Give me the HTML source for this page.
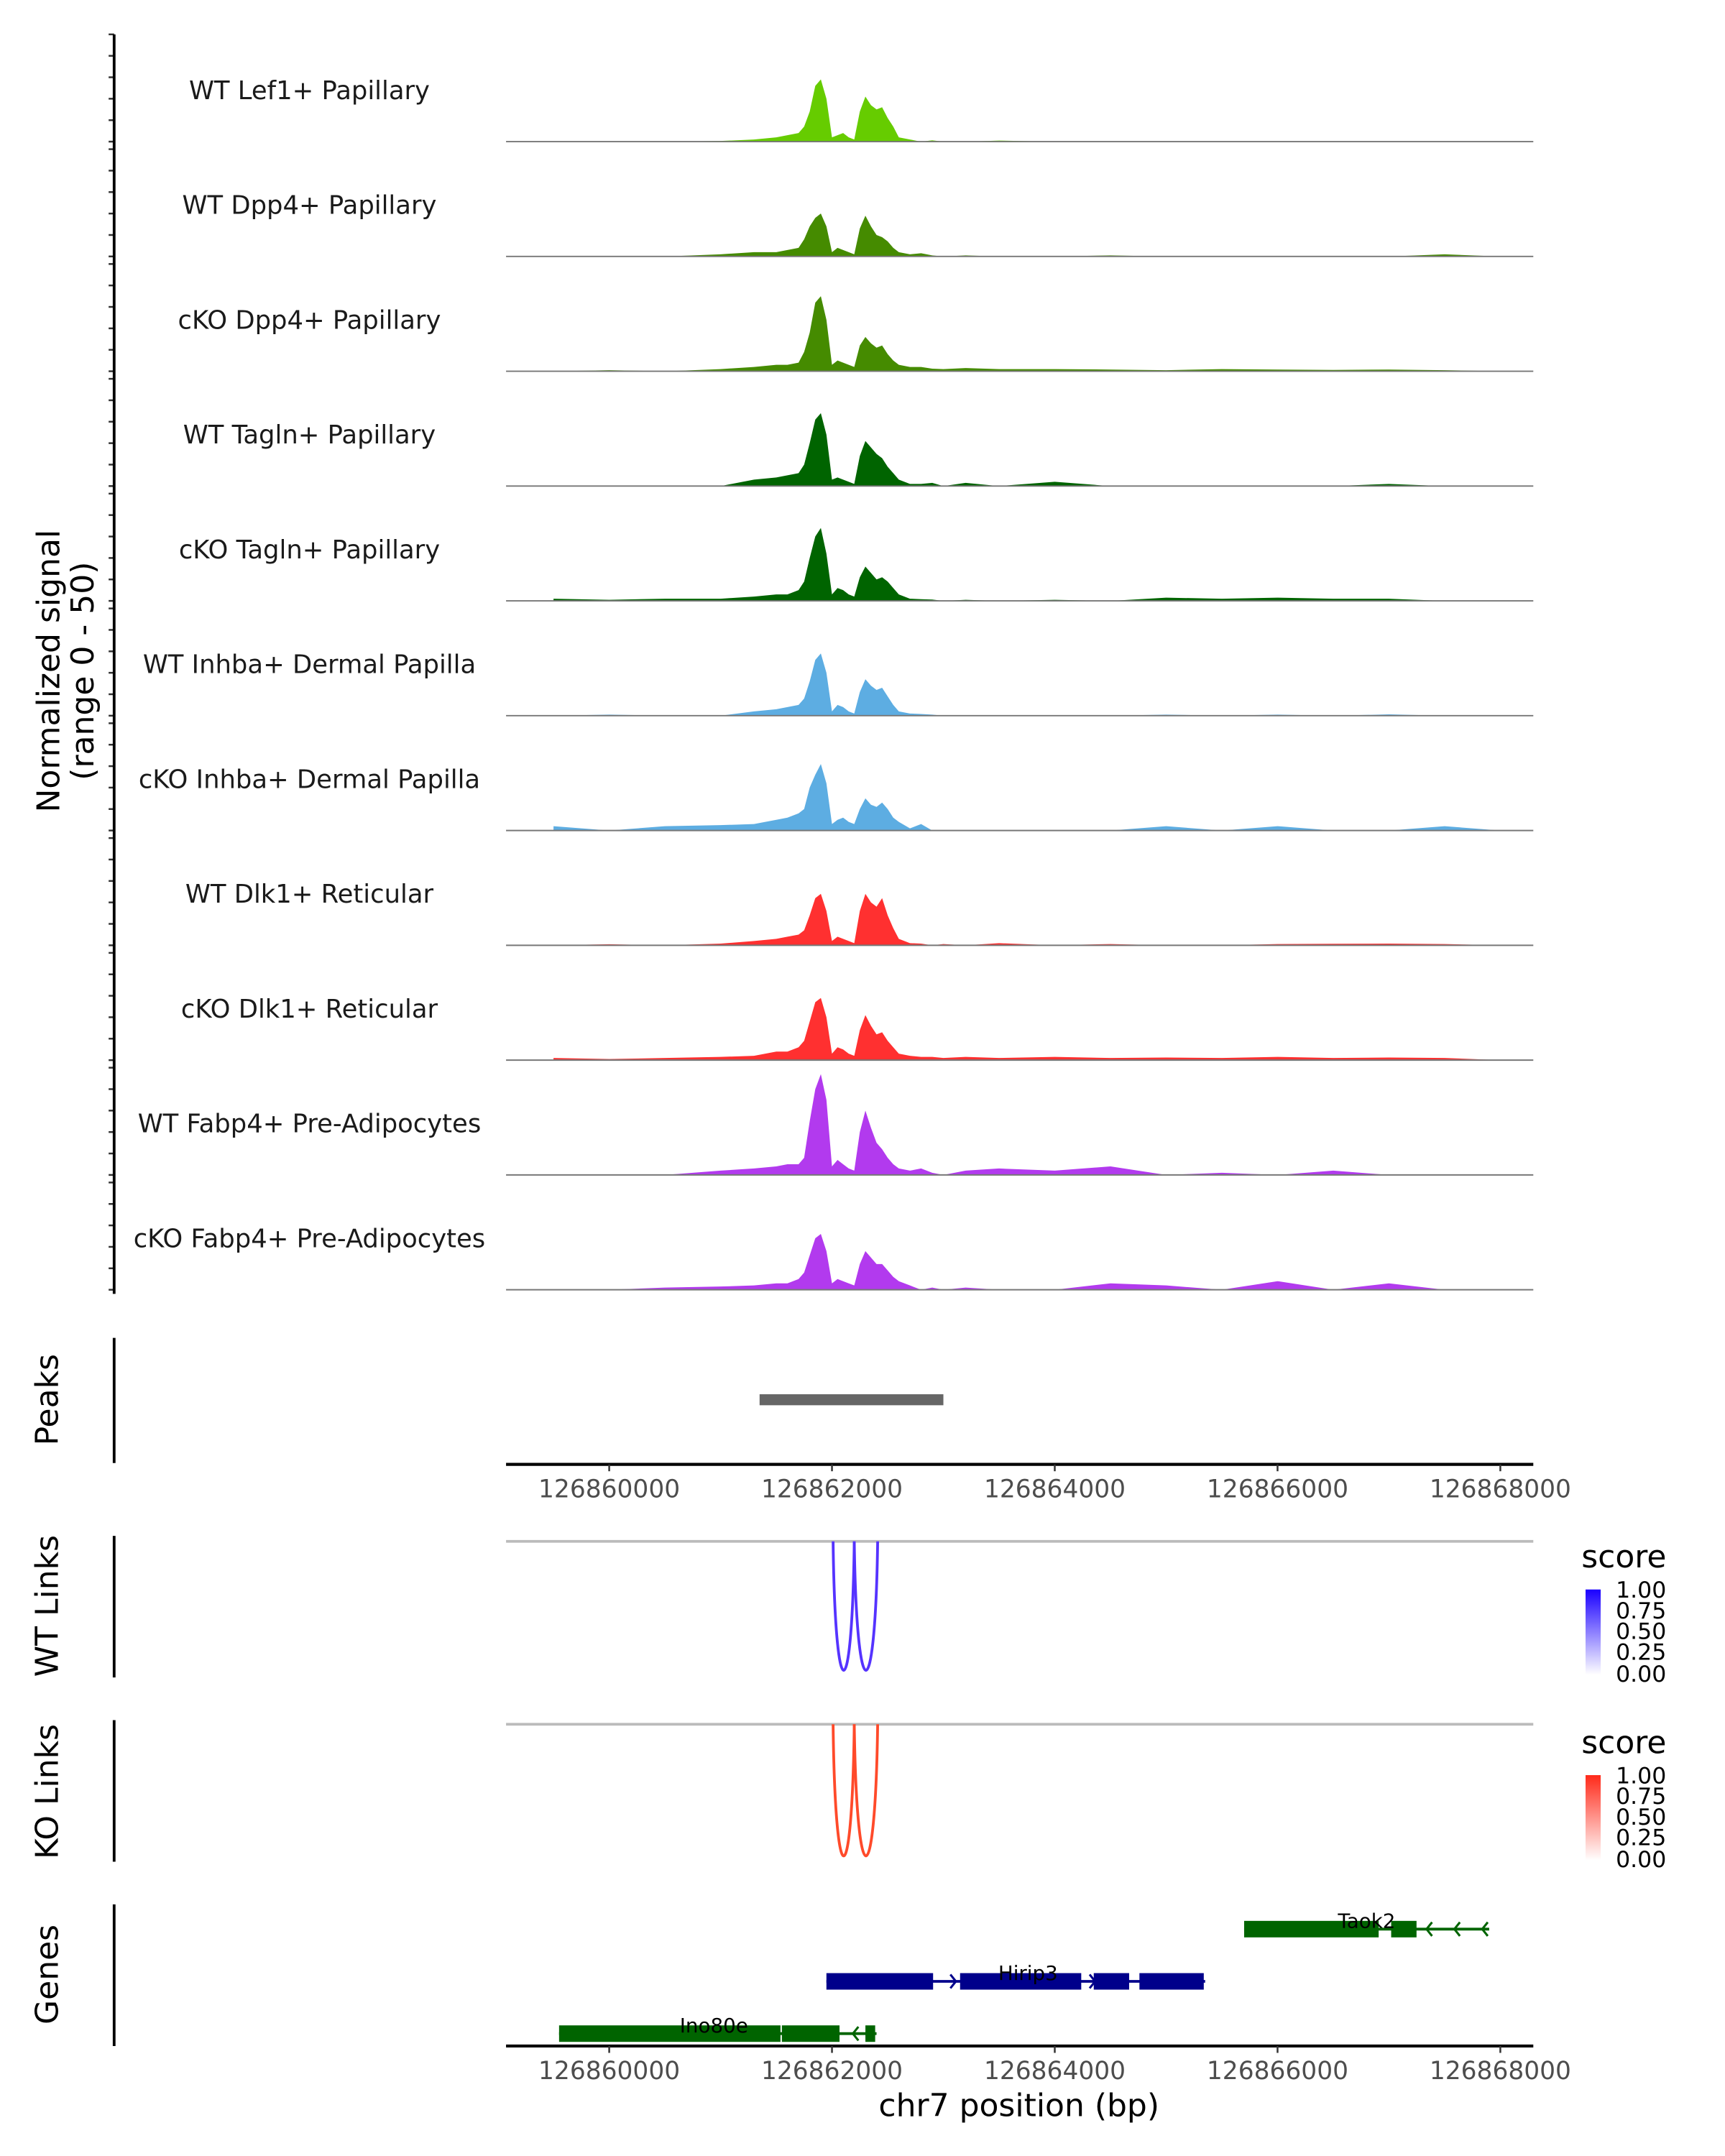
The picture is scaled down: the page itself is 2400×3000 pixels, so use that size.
<!DOCTYPE html>
<html><head><meta charset="utf-8">
<style>
html,body{margin:0;padding:0;background:#fff;}
svg{display:block;font-family:"DejaVu Sans","Liberation Sans",sans-serif;}
</style></head>
<body>
<svg id="chart" width="2400" height="3000" viewBox="0 0 1254.4 1568" xmlns="http://www.w3.org/2000/svg">
<g id="tracks"></g>
<g id="axes"></g>
<text transform="translate(43,488) rotate(-90)" text-anchor="middle" font-size="23" fill="#000">Normalized signal</text>
<text transform="translate(68,488) rotate(-90)" text-anchor="middle" font-size="23" fill="#000">(range 0 - 50)</text>
<text transform="translate(42,1018) rotate(-90)" text-anchor="middle" font-size="23">Peaks</text>
<text transform="translate(42,1168) rotate(-90)" text-anchor="middle" font-size="23">WT Links</text>
<text transform="translate(42,1303) rotate(-90)" text-anchor="middle" font-size="23">KO Links</text>
<text transform="translate(42,1436) rotate(-90)" text-anchor="middle" font-size="23">Genes</text>
<text x="741" y="1539" text-anchor="middle" font-size="23">chr7 position (bp)</text>
<defs>
<linearGradient id="gb" x1="0" y1="1" x2="0" y2="0"><stop offset="0" stop-color="#fff"/><stop offset="1" stop-color="#1a00ff"/></linearGradient>
<linearGradient id="gr" x1="0" y1="1" x2="0" y2="0"><stop offset="0" stop-color="#fff"/><stop offset="1" stop-color="#ff2a1a"/></linearGradient>
</defs>
<g>
<text x="1150" y="1140" font-size="23">score</text>
<rect x="1153" y="1156" width="11" height="62" fill="url(#gb)"/>
<text x="1175" y="1162" font-size="16.5">1.00</text><text x="1175" y="1177" font-size="16.5">0.75</text><text x="1175" y="1192" font-size="16.5">0.50</text><text x="1175" y="1207" font-size="16.5">0.25</text><text x="1175" y="1223" font-size="16.5">0.00</text>
</g>
<g>
<text x="1150" y="1275" font-size="23">score</text>
<rect x="1153" y="1291" width="11" height="62" fill="url(#gr)"/>
<text x="1175" y="1297" font-size="16.5">1.00</text><text x="1175" y="1312" font-size="16.5">0.75</text><text x="1175" y="1327" font-size="16.5">0.50</text><text x="1175" y="1342" font-size="16.5">0.25</text><text x="1175" y="1358" font-size="16.5">0.00</text>
</g>
</svg>
<script>
const positions=[126859500,126860000,126860500,126861000,126861300,126861500,126861600,126861700,126861750,126861800,126861850,126861900,126861950,126862000,126862050,126862100,126862150,126862200,126862250,126862300,126862350,126862400,126862450,126862500,126862550,126862600,126862700,126862800,126862900,126863000,126863200,126863500,126864000,126864500,126865000,126865500,126866000,126866500,126867000,126867500,126868000];
const trackNames=["WT Lef1+ Papillary","WT Dpp4+ Papillary","cKO Dpp4+ Papillary","WT Tagln+ Papillary","cKO Tagln+ Papillary","WT Inhba+ Dermal Papilla","cKO Inhba+ Dermal Papilla","WT Dlk1+ Reticular","cKO Dlk1+ Reticular","WT Fabp4+ Pre-Adipocytes","cKO Fabp4+ Pre-Adipocytes"];
const trackColors=["#66cc00","#458b00","#458b00","#006400","#006400","#5dade2","#5dade2","#ff3030","#ff3030","#b23aee","#b23aee"];
const sigLef1=[0,0,0,0.3,1,2,3,4,7,14,26,29,20,2,3,4,2,1,14,21,17,15,16,11,7,2,1,0,0.6,0,0,0.5,0,0,0,0,0,0,0,0,0];
const sigWTDpp4=[0,0,0,1,2,2,3,4,8,14,18,20,14,2,4,3,2,1,13,19,14,10,9,7,4,2,1,1.5,0.5,0,0.5,0,0,0.5,0,0,0,0,0,1,0];
const sigKODpp4=[0,0.5,0,1,2,3,3,4,9,18,32,35,24,3,5,4,3,2,12,16,13,11,12,8,5,3,2,2,1.2,1,1.5,1,1,0.8,0.5,1,0.8,0.6,0.8,0.5,0];
const sigWTTagln=[0,0,0,0,3,4,5,6,10,20,31,34,24,3,4,3,2,1,14,21,18,15,13,9,6,3,1,1,1.5,0,1.5,0,2,0,0,0,0,0,1,0,0];
const sigKOTagln=[1,0.5,1,1,2,3,3,5,9,20,30,34,22,3,6,5,3,2,11,16,13,10,11,9,6,3,1,0.8,0.6,0,0.5,0,0.5,0,1.5,1,1.5,1,1,0,0];
const sigWTInhba=[0,0.5,0,0,2,3,4,5,8,16,26,29,20,2,5,4,2,1,11,17,14,12,13,9,5,2,1,0.8,0.5,0,0,0,0,0,0.5,0,0.5,0,0.6,0,0];
const sigKOInhba=[2,0,2,2.5,3,5,6,8,10,20,26,31,22,3,5,6,4,3,10,15,12,11,13,10,6,4,1,3,0,0,0,0,0,0,2,0,2,0,0,2,0];
const sigWTDlk1=[0,0.5,0,0.8,2,3,4,5,7,14,22,24,16,2,4,3,2,1,16,24,20,18,22,14,8,3,1,0.8,0,0.6,0,1,0,0.6,0,0,0.6,0.7,0.8,0.6,0];
const sigKODlk1=[1,0.5,1,1.5,2,4,4,6,9,18,27,29,20,3,6,5,3,2,14,21,16,12,13,9,6,3,2,1.5,1.5,1,1.5,1,1.5,1,1.2,1,1.5,1,1.2,1,0];
const sigWTFabp4=[0,0,0,2,3,4,5,5,8,25,40,47,35,4,7,5,3,2,20,30,22,15,12,8,5,3,2,3,1,0,2,3,2,4,0,1,0,2,0,0,0];
const sigKOFabp4=[0,0,1,1.5,2,3,3,5,8,16,24,26,18,3,5,4,3,2,12,18,15,12,12,9,6,4,2,0,1,0,1,0,0,3,2,0,4,0,3,0,0];
const signals=[sigLef1,sigWTDpp4,sigKODpp4,sigWTTagln,sigKOTagln,sigWTInhba,sigKOInhba,sigWTDlk1,sigKODlk1,sigWTFabp4,sigKOFabp4];
const xTicks=[126860000,126862000,126864000,126866000,126868000];
const peakStart=126861350, peakEnd=126863000;
const wtLinks=[[126862010,126862200],[126862200,126862410]];
const koLinks=[[126862010,126862200],[126862200,126862410]];
const genes=[
 {name:"Taok2",row:0,strand:-1,color:"#006400",start:126865700,end:126867900,exons:[[126865700,126866920],[126867020,126867260]],label:126866800},
 {name:"Hirip3",row:1,strand:1,color:"#00008b",start:126861950,end:126865350,exons:[[126861950,126862920],[126863150,126864250],[126864350,126864680],[126864760,126865350]],label:126863760},
 {name:"Ino80e",row:2,strand:-1,color:"#006400",start:126859550,end:126862400,exons:[[126859550,126861550],[126861550,126862080],[126862300,126862400]],label:126860940}
];
const NS="http://www.w3.org/2000/svg";
const X0=368,X1=1115,BP0=126859074,BP1=126868296;
function xs(bp){return X0+(bp-BP0)/(BP1-BP0)*(X1-X0);}
const base0=103,trackStep=83.5,unitPx=1.56;
function ys(i,v){return base0+i*trackStep-v*unitPx;}
function mk(tag,attrs,parent){const e=document.createElementNS(NS,tag);for(const k in attrs)e.setAttribute(k,attrs[k]);parent.appendChild(e);return e;}
const tg=document.getElementById('tracks'),ax=document.getElementById('axes');
signals.forEach((s,i)=>{
 const g=mk('g',{},tg);
 
 
 let d='M'+xs(positions[0])+','+ys(i,0);
 positions.forEach((p,j)=>{d+=' L'+xs(p).toFixed(2)+','+ys(i,s[j]).toFixed(2);});
 d+=' L'+xs(positions[positions.length-1])+','+ys(i,0)+' Z';
 const a=mk('path',{d:d,fill:trackColors[i]},g);
 
 
 const b=mk('line',{x1:X0,x2:X1,y1:ys(i,0),y2:ys(i,0),stroke:'#777','stroke-width':1},g);
 
 
 const t=mk('text',{x:225,y:ys(i,0)-31,'text-anchor':'middle','font-size':18.5,fill:'#1a1a1a'},g);
 t.textContent=trackNames[i];
 
 
 [0,10,20,30,40,50].forEach(v=>{
  const tk=mk('line',{x1:79,x2:83,y1:ys(i,v),y2:ys(i,v),stroke:'#333','stroke-width':1.3},ax);
  
  
 });
});
function vline(x,y1,y2,name){const l=mk('line',{x1:x,x2:x,y1:y1,y2:y2,stroke:'#000','stroke-width':2},ax);}
vline(83,25,941,'signal-y-axis');vline(83,973,1064,'peaks-y-axis');vline(83,1117,1220,'wt-links-y-axis');vline(83,1251,1354,'ko-links-y-axis');vline(83,1385,1488,'genes-y-axis');
const pk=mk('rect',{x:xs(peakStart),y:1014,width:xs(peakEnd)-xs(peakStart),height:8,fill:'#666'},ax);


function xaxis(y,name){
 const l=mk('line',{x1:X0,x2:X1,y1:y,y2:y,stroke:'#000','stroke-width':2.2},ax);
 
 
 xTicks.forEach(t=>{
  const tk=mk('line',{x1:xs(t),x2:xs(t),y1:y,y2:y+5,stroke:'#333','stroke-width':1.3},ax);
  
  
  const tx=mk('text',{x:xs(t),y:y+24,'text-anchor':'middle','font-size':18,fill:'#4d4d4d'},ax);
  tx.textContent=t;
  
  
 });
}
xaxis(1065,'peaks-x-axis');xaxis(1488,'genes-x-axis');
function links(arr,y0,depth,color,name){
 const l=mk('line',{x1:X0,x2:X1,y1:y0,y2:y0,stroke:'#bbb','stroke-width':2},ax);
 
 
 arr.forEach(([a,b])=>{
  const xa=xs(a),xb=xs(b);
  const p=mk('path',{d:`M${xa},${y0} C${xa+(xb-xa)*0.1},${y0+depth*1.33} ${xb-(xb-xa)*0.1},${y0+depth*1.33} ${xb},${y0}`,fill:'none',stroke:color,'stroke-width':2},ax);
  
  
 });
}
links(wtLinks,1121,94,'#5533ff','wt-link');
links(koLinks,1254,96,'#ff4a2a','ko-link');
genes.forEach(g=>{
 const y=1403+g.row*38;
 const gg=mk('g',{},ax);
 
 
 mk('line',{x1:xs(g.start),x2:xs(g.end),y1:y,y2:y,stroke:g.color,'stroke-width':2},gg);
 for(let bp=g.start+150;bp<g.end;bp+=250){
  const x=xs(bp);const d=g.strand>0?`M${x-3},${y-5} L${x+1},${y} L${x-3},${y+5}`:`M${x+3},${y-5} L${x-1},${y} L${x+3},${y+5}`;
  mk('path',{d:d,fill:'none',stroke:g.color,'stroke-width':1.6},gg);
 }
 g.exons.forEach(([a,b])=>{mk('rect',{x:xs(a),y:y-6,width:xs(b)-xs(a)-1,height:12,fill:g.color},gg);});
 const t=mk('text',{x:xs(g.label),y:y-1,'text-anchor':'middle','font-size':14.5,fill:'#000'},gg);
 t.textContent=g.name;
});
</script>
</body></html>
